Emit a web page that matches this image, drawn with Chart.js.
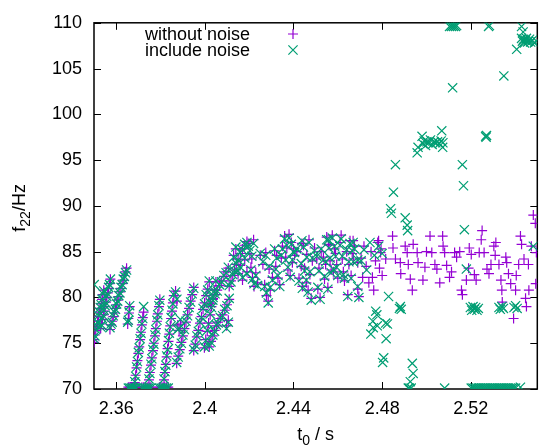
<!DOCTYPE html>
<html lang="en">
<head>
<meta charset="UTF-8">
<title>f22 vs t0</title>
<script src="https://cdn.jsdelivr.net/npm/chart.js"></script>
<style>
  html, body { margin: 0; padding: 0; background: #fff; }
  #wrap { width: 545px; height: 447px; }
</style>
</head>
<body>
<div id="wrap"><canvas id="f22Chart" width="545" height="447"></canvas></div>
<script>
// axis ticks
const xTickValues = [2.36, 2.40, 2.44, 2.48, 2.52];
const xTickLabels = ['2.36', '2.4', '2.44', '2.48', '2.52'];
const yTickValues = [70, 75, 80, 85, 90, 95, 100, 105, 110];
const yTickLabels = ['70', '75', '80', '85', '90', '95', '100', '105', '110'];

const seriesNames = ['without noise', 'include noise'];

// t0 < 2.47 s : both runs sampled at the same t0
const t0Early = [
  2.3500, 2.3504, 2.3508, 2.3512, 2.3516, 2.3520, 2.3524, 2.3528, 2.3532, 2.3536, 2.3540, 2.3544,
  2.3530, 2.3534, 2.3538, 2.3542, 2.3546, 2.3550, 2.3554, 2.3558, 2.3562, 2.3566, 2.3570, 2.3574,
  2.3572, 2.3577, 2.3582, 2.3587, 2.3592, 2.3597, 2.3602, 2.3607, 2.3612, 2.3617, 2.3622, 2.3627,
  2.3632, 2.3637, 2.3642, 2.3647, 2.3501, 2.3652, 2.3655, 2.3658, 2.3661,
  2.3655, 2.3662, 2.3669, 2.3676, 2.3683, 2.3690,
  2.3684, 2.3688, 2.3692, 2.3696, 2.3700, 2.3704, 2.3708, 2.3712, 2.3716, 2.3720, 2.3724,
  2.3716, 2.3724, 2.3732, 2.3740, 2.3748, 2.3756,
  2.3748, 2.3752, 2.3757, 2.3761, 2.3766, 2.3770, 2.3775, 2.3779, 2.3784, 2.3788, 2.3793, 2.3797,
  2.3795, 2.3803, 2.3811, 2.3819, 2.3827, 2.3835,
  2.3816, 2.3820, 2.3824, 2.3828, 2.3832, 2.3836, 2.3840, 2.3844, 2.3848, 2.3852, 2.3856, 2.3860,
  2.3868, 2.3874,
  2.3873, 2.3880, 2.3887, 2.3894, 2.3901, 2.3908, 2.3915, 2.3922, 2.3929, 2.3936, 2.3943, 2.3950,
  2.3878, 2.3884, 2.3890,
  2.3950, 2.3957, 2.3964, 2.3971, 2.3978, 2.3985, 2.3992, 2.3999, 2.4006, 2.4013, 2.4020,
  2.3998, 2.4004, 2.4011, 2.4017, 2.4024, 2.4030, 2.4037, 2.4043, 2.4050,
  2.4020, 2.4028, 2.4036, 2.4044, 2.4052, 2.4060, 2.4070, 2.4080, 2.4090, 2.4100, 2.4110,
  2.4098, 2.4106,
  2.4026, 2.4036, 2.4046, 2.4056, 2.4066, 2.4076, 2.4086, 2.4096, 2.4106,
  2.4110, 2.4118, 2.4126, 2.4134, 2.4142, 2.4150, 2.4160, 2.4170, 2.4180, 2.4190,
  2.4130, 2.4140, 2.4150, 2.4160, 2.4170, 2.4180, 2.4190, 2.4196, 2.4203, 2.4208, 2.4212, 2.4215,
  2.4220, 2.4222, 2.4230, 2.4238, 2.4250, 2.4262, 2.4270, 2.4275, 2.4278, 2.4286, 2.4290, 2.4295,
  2.4305, 2.4315, 2.4320, 2.4324, 2.4330, 2.4338, 2.4345, 2.4350, 2.4360, 2.4365, 2.4370, 2.4375,
  2.4380, 2.4385, 2.4390, 2.4395, 2.4400, 2.4405, 2.4415, 2.4425, 2.4435, 2.4438, 2.4440, 2.4445,
  2.4450, 2.4458, 2.4460, 2.4466, 2.4470, 2.4474, 2.4480, 2.4485, 2.4495, 2.4505, 2.4510, 2.4515,
  2.4520, 2.4525, 2.4535, 2.4540, 2.4545, 2.4550, 2.4555, 2.4558, 2.4560, 2.4565, 2.4570, 2.4575,
  2.4580, 2.4585, 2.4590, 2.4595, 2.4600, 2.4610, 2.4615, 2.4620, 2.4625, 2.4630, 2.4640, 2.4645,
  2.4650, 2.4655, 2.4660, 2.4665, 2.4669, 2.4670, 2.4675, 2.4690, 2.4695, 2.4690
];
const f22EarlyClean = [
  75.4, 75.9, 76.4, 76.9, 77.4, 77.9, 78.4, 78.8, 79.3, 79.8, 80.3, 80.8,
  76.6, 77.1, 77.6, 78.1, 78.5, 79.0, 79.5, 80.0, 80.5, 81.0, 81.5, 82.0,
  76.5, 77.0, 77.4, 77.9, 78.3, 78.8, 79.2, 79.7, 80.1, 80.6, 81.0, 81.5,
  81.9, 82.4, 82.8, 83.2, 75.1, 77.1, 77.7, 78.3, 79.0,
  70.2, 70.2, 70.2, 70.2, 70.2, 70.2,
  70.7, 71.5, 72.3, 73.1, 73.9, 74.6, 75.4, 76.2, 77.0, 77.8, 78.4,
  70.2, 70.2, 70.2, 70.2, 70.2, 70.2,
  71.0, 71.8, 72.6, 73.4, 74.2, 75.0, 75.8, 76.6, 77.4, 78.2, 79.0, 79.8,
  70.2, 70.2, 70.2, 70.2, 70.2, 70.2,
  71.0, 71.8, 72.7, 73.5, 74.4, 75.2, 76.0, 76.9, 77.7, 78.5, 79.4, 80.2,
  80.7, 79.6,
  72.8, 73.6, 74.3, 75.1, 75.8, 76.6, 77.3, 78.1, 78.8, 79.6, 80.3, 81.1,
  77.0, 76.4, 77.1,
  74.2, 74.9, 75.7, 76.4, 77.2, 77.9, 78.7, 79.4, 80.2, 80.9, 81.7,
  74.5, 75.4, 76.3, 77.2, 78.1, 79.0, 79.9, 80.8, 81.7,
  74.6, 75.2, 75.8, 76.4, 76.9, 77.3, 77.7, 78.1, 78.6, 79.2, 79.8,
  76.9, 77.5,
  79.3, 79.8, 80.3, 80.8, 81.3, 81.8, 82.3, 82.8, 83.2,
  81.2, 81.8, 82.4, 83.0, 83.6, 84.2, 84.8, 85.3, 85.7, 86.1,
  84.6, 85.3, 82.6, 83.5, 81.9, 84.1, 82.8, 85.9, 84.8, 83.3, 84.2, 82.2,
  86.3, 81.2, 82.7, 81.6, 84.6, 83.6, 81.4, 84.9, 80.2, 79.6, 83.1, 80.8,
  82.2, 85.1, 83.4, 84.6, 82.1, 81.4, 84.3, 85.6, 86.7, 84.4, 85.4, 83.0,
  86.9, 82.4, 86.0, 83.8, 85.3, 84.6, 85.0, 82.1, 83.4, 85.9, 81.2, 85.7,
  83.2, 81.6, 84.7, 80.8, 86.3, 82.5, 79.9, 84.0, 85.4, 84.2, 80.9, 83.2,
  80.0, 85.0, 84.4, 82.0, 83.6, 86.6, 81.1, 85.8, 85.7, 84.0, 83.0, 86.8,
  82.8, 85.3, 84.8, 83.6, 82.1, 86.0, 86.8, 84.2, 82.8, 81.8, 85.0, 80.3,
  83.6, 86.2, 82.4, 84.8, 86.2, 84.2, 85.6, 80.9, 80.1, 83.8
];
const f22EarlyNoisy = [
  75.5, 75.8, 76.5, 76.9, 77.3, 78.0, 78.4, 78.9, 79.2, 79.8, 80.4, 80.7,
  76.8, 77.0, 77.7, 78.0, 78.6, 79.1, 79.4, 80.1, 80.4, 81.1, 81.4, 82.0,
  76.7, 77.1, 77.3, 78.0, 78.4, 78.7, 79.3, 79.6, 80.2, 80.5, 81.1, 81.4,
  82.0, 82.3, 82.7, 83.0, 81.4, 77.3, 77.5, 78.4, 79.1,
  70.1, 70.1, 70.1, 70.1, 70.1, 70.1,
  70.8, 71.4, 72.4, 73.0, 74.0, 74.5, 75.5, 76.1, 77.1, 77.7, 79.0,
  70.1, 70.1, 70.1, 70.1, 70.1, 70.1,
  71.1, 71.7, 72.7, 73.3, 74.3, 74.9, 75.9, 76.5, 77.5, 78.1, 79.1, 79.7,
  70.1, 70.1, 70.1, 70.1, 70.1, 70.1,
  71.1, 71.9, 72.6, 73.6, 74.3, 75.3, 76.1, 76.8, 77.8, 78.6, 79.3, 80.3,
  80.6, 79.8,
  72.9, 73.5, 74.4, 75.0, 75.9, 76.5, 77.4, 78.0, 78.9, 79.5, 80.4, 81.0,
  76.5, 76.6, 77.6,
  74.3, 74.8, 75.8, 76.3, 77.3, 77.8, 78.8, 79.3, 80.3, 80.8, 81.8,
  74.6, 75.3, 76.4, 77.1, 78.2, 78.9, 80.0, 80.7, 81.8,
  74.7, 75.1, 75.9, 76.3, 77.0, 77.2, 77.8, 78.0, 78.7, 79.1, 79.9,
  76.6, 77.3,
  79.4, 79.7, 80.4, 80.7, 81.4, 81.7, 82.4, 82.7, 83.3,
  81.3, 81.7, 82.5, 82.9, 83.7, 84.1, 84.9, 85.2, 85.8, 86.0,
  84.4, 85.5, 82.9, 83.3, 82.2, 84.3, 82.6, 85.6, 85.1, 83.0, 84.5, 82.0,
  85.9, 81.5, 82.4, 81.3, 84.8, 83.9, 81.2, 84.6, 80.5, 79.4, 83.4, 81.1,
  81.9, 85.3, 83.1, 84.3, 82.4, 81.2, 84.6, 85.3, 86.4, 84.1, 85.7, 83.3,
  86.5, 82.2, 85.8, 84.1, 85.0, 84.9, 85.3, 81.8, 83.7, 86.2, 81.0, 85.5,
  82.9, 81.9, 84.4, 80.6, 86.0, 82.8, 79.7, 84.3, 85.1, 84.5, 81.1, 82.9,
  79.8, 85.3, 84.1, 82.3, 83.9, 86.3, 80.9, 86.3, 85.4, 84.3, 82.7, 86.5,
  83.1, 85.6, 84.5, 83.3, 82.4, 85.7, 86.4, 84.5, 82.5, 82.1, 85.2, 80.1,
  83.9, 85.9, 82.1, 85.1, 86.0, 83.9, 85.3, 81.2, 80.0, 84.1
];

// t0 >= 2.47 s : without noise
const t0LateClean = [
  2.4705, 2.4712, 2.4718, 2.4728, 2.4740, 2.4750, 2.4756, 2.4762, 2.4770, 2.4780, 2.4784, 2.4788,
  2.4793, 2.4795, 2.4800, 2.4816, 2.4847, 2.4849, 2.4860, 2.4882, 2.4884, 2.4904, 2.4913, 2.4918,
  2.4927, 2.4936, 2.4940, 2.4958, 2.4962, 2.4984, 2.4993, 2.5000, 2.5016, 2.5024, 2.5038, 2.5047,
  2.5060, 2.5073, 2.5075, 2.5082, 2.5091, 2.5104, 2.5113, 2.5127, 2.5136, 2.5150, 2.5158, 2.5162,
  2.5180, 2.5190, 2.5193, 2.5202, 2.5216, 2.5224, 2.5238, 2.5247, 2.5251, 2.5260, 2.5273, 2.5282,
  2.5291, 2.5304, 2.5310, 2.5313, 2.5327, 2.5336, 2.5340, 2.5342, 2.5358, 2.5362, 2.5370, 2.5380,
  2.5393, 2.5402, 2.5405, 2.5416, 2.5424, 2.5429, 2.5440, 2.5447, 2.5451, 2.5460, 2.5462, 2.5473,
  2.5482, 2.5491, 2.5493, 2.5496
];
const f22LateClean = [
  84.3, 82.2, 85.6, 83.4, 81.6, 85.0, 82.2, 80.8, 84.0, 86.0, 86.2, 83.2,
  84.9, 85.3, 82.4, 84.2, 86.7, 85.4, 84.2, 83.8, 82.6, 85.6, 84.9, 83.6,
  82.0, 80.8, 85.8, 84.9, 83.8, 81.9, 83.3, 85.0, 86.7, 84.9, 83.6, 83.1,
  81.6, 86.7, 85.6, 84.9, 83.5, 82.2, 82.8, 84.9, 84.4, 85.0, 80.8, 80.3,
  81.9, 83.2, 85.4, 84.7, 82.5, 81.9, 84.9, 86.3, 87.3, 84.9, 83.1, 82.6,
  83.6, 85.6, 84.6, 86.0, 83.6, 81.9, 80.8, 79.5, 84.4, 83.8, 82.6, 81.5,
  77.7, 80.8, 82.4, 83.6, 86.7, 85.8, 84.2, 79.9, 79.0, 83.6, 80.8, 85.6,
  89.0, 88.1, 81.5, 84.9
];

// t0 >= 2.47 s : include noise
const t0LateNoisy = [
  2.4749, 2.4758, 2.4760, 2.4771, 2.4776, 2.4778, 2.4802, 2.4807, 2.4816, 2.4818, 2.4824, 2.4829,
  2.4705, 2.4718, 2.4730, 2.4745, 2.4765, 2.4784, 2.4800,
  2.4838, 2.4842, 2.4851, 2.4860, 2.4904, 2.4913, 2.4915,
  2.4878, 2.4882, 2.4886,
  2.4918, 2.4922, 2.4927, 2.4931, 2.4936, 2.4940, 2.5082,
  2.4958, 2.4962, 2.4980, 2.4984, 2.4990, 2.4996, 2.5002, 2.5010, 2.5018, 2.5026, 2.5034, 2.5042,
  2.5050, 2.5058, 2.5066, 2.5069, 2.5073, 2.5074, 2.5118, 2.5162, 2.5167, 2.5267, 2.5269, 2.5271,
  2.5349, 2.5407,
  2.5104, 2.5109, 2.5113, 2.5118, 2.5122, 2.5127, 2.5131, 2.5136, 2.5280, 2.5284, 2.5429, 2.5436,
  2.5429, 2.5433, 2.5438, 2.5442, 2.5447, 2.5451, 2.5456, 2.5460, 2.5465, 2.5470, 2.5478, 2.5487,
  2.5496,
  2.5171, 2.5180, 2.5482,
  2.5198, 2.5204, 2.5210, 2.5216, 2.5222, 2.5228, 2.5234, 2.5327, 2.5333, 2.5340, 2.5347, 2.5395,
  2.5402, 2.5409,
  2.5202, 2.5210, 2.5218, 2.5226, 2.5234, 2.5242, 2.5250, 2.5258, 2.5266, 2.5274, 2.5282, 2.5290,
  2.5298, 2.5306, 2.5314, 2.5322, 2.5330, 2.5338, 2.5346, 2.5354, 2.5362, 2.5370, 2.5378, 2.5386,
  2.5394, 2.5402, 2.5424
];
const f22LateNoisy = [
  76.0, 77.4, 76.7, 78.5, 78.1, 76.9, 72.9, 73.4, 77.2, 75.5, 77.1, 80.1,
  84.0, 85.2, 83.0, 86.0, 84.6, 85.6, 84.8,
  89.7, 89.2, 91.5, 94.5, 88.7, 87.9, 87.3,
  78.8, 79.0, 78.7,
  70.1, 70.1, 70.8, 70.1, 72.8, 71.7, 70.1,
  95.8, 96.4, 97.6, 96.8, 97.1, 96.6, 97.0, 96.9, 97.2, 96.7, 97.0, 96.9,
  97.0, 96.8, 97.1, 98.2, 96.4, 96.9, 102.9, 94.5, 92.2, 97.6, 97.5, 97.7,
  104.2, 107.1,
  109.6, 109.7, 109.6, 109.7, 109.6, 109.7, 109.6, 109.7, 109.6, 109.7, 109.6, 109.0,
  108.3, 108.0, 108.2, 107.8, 108.1, 108.3, 107.9, 108.0, 108.2, 107.9, 108.1, 107.8,
  108.0,
  87.4, 83.1, 85.6,
  78.9, 78.6, 79.0, 78.7, 78.9, 78.6, 78.8, 78.9, 78.7, 79.0, 78.8, 78.9,
  79.1, 78.8,
  70.1, 70.1, 70.1, 70.1, 70.1, 70.1, 70.1, 70.1, 70.1, 70.1, 70.1, 70.1,
  70.1, 70.1, 70.1, 70.1, 70.1, 70.1, 70.1, 70.1, 70.1, 70.1, 70.1, 70.1,
  70.1, 70.1, 70.2
];

function toPoints(ts, fs) {
  return ts.map((t, i) => ({ x: t, y: fs[i] }));
}
const cleanPoints = toPoints(t0Early, f22EarlyClean).concat(toPoints(t0LateClean, f22LateClean));
const noisyPoints = toPoints(t0Early, f22EarlyNoisy).concat(toPoints(t0LateNoisy, f22LateNoisy));

const PURPLE = '#9400d3';
const GREEN = '#009e73';
const FONT = "'Liberation Sans', Arial, sans-serif";
const FS = 18;   // main text size
const SUB = 14;  // subscript size

Chart.defaults.font.family = FONT;
Chart.defaults.font.size = FS;
Chart.defaults.color = '#000';

// draw text made of normal and subscript pieces, centred on x
function drawParts(ctx, parts, x, y) {
  let total = 0;
  parts.forEach(p => {
    ctx.font = (p.sub ? SUB : FS) + 'px ' + FONT;
    p.w = ctx.measureText(p.text).width;
    total += p.w;
  });
  let cx = x - total / 2;
  ctx.textAlign = 'left';
  ctx.textBaseline = 'alphabetic';
  parts.forEach(p => {
    ctx.font = (p.sub ? SUB : FS) + 'px ' + FONT;
    ctx.fillText(p.text, cx, y + (p.sub ? 5 : 0));
    cx += p.w;
  });
}

// gnuplot style frame with inward ticks on all four sides
const framePlugin = {
  id: 'frame',
  beforeDatasetsDraw(chart) {
    const { ctx, chartArea: a, scales } = chart;
    const tl = 7;
    ctx.save();
    ctx.strokeStyle = '#000';
    ctx.lineWidth = 1;
    xTickValues.forEach(v => {
      const px = Math.round(scales.x.getPixelForValue(v)) + 0.5;
      ctx.beginPath();
      ctx.moveTo(px, a.bottom); ctx.lineTo(px, a.bottom - tl);
      ctx.moveTo(px, a.top); ctx.lineTo(px, a.top + tl);
      ctx.stroke();
    });
    yTickValues.forEach(v => {
      const py = Math.round(scales.y.getPixelForValue(v)) + 0.5;
      ctx.beginPath();
      ctx.moveTo(a.left, py); ctx.lineTo(a.left + tl, py);
      ctx.moveTo(a.right, py); ctx.lineTo(a.right - tl, py);
      ctx.stroke();
    });
    ctx.lineWidth = 1.5;
    ctx.strokeRect(a.left, a.top, a.right - a.left, a.bottom - a.top);
    ctx.restore();
  }
};

const labelsPlugin = {
  id: 'labels',
  afterDraw(chart) {
    const { ctx, chartArea: a } = chart;
    ctx.save();
    ctx.fillStyle = '#000';
    // x title
    drawParts(ctx, [{ text: 't' }, { text: '0', sub: true }, { text: ' / s' }], (a.left + a.right) / 2, 440);
    // y title, rotated
    ctx.save();
    ctx.translate(25, (a.top + a.bottom) / 2 + 2);
    ctx.rotate(-Math.PI / 2);
    drawParts(ctx, [{ text: 'f' }, { text: '22', sub: true }, { text: '/Hz' }], 0, 0);
    ctx.restore();
    // key
    ctx.font = FS + 'px ' + FONT;
    ctx.textAlign = 'right';
    ctx.textBaseline = 'alphabetic';
    const rows = [
      { y: 40, style: 'cross', r: 5, color: PURPLE },
      { y: 56, style: 'crossRot', r: 6.5, color: GREEN }
    ];
    rows.forEach((row, i) => {
      ctx.fillText(seriesNames[i], 250, row.y);
      ctx.strokeStyle = row.color;
      ctx.lineWidth = 1.2;
      Chart.helpers.drawPoint(ctx, { pointStyle: row.style, radius: row.r, borderWidth: 1.2, rotation: 0 }, 293, row.y - 6);
    });
    ctx.restore();
  }
};

new Chart(document.getElementById('f22Chart'), {
  type: 'scatter',
  data: {
    datasets: [
      {
        label: seriesNames[0],
        data: cleanPoints,
        pointStyle: 'cross',
        pointRadius: 5,
        pointBorderWidth: 1.2,
        borderColor: PURPLE,
        backgroundColor: PURPLE,
        order: 1
      },
      {
        label: seriesNames[1],
        data: noisyPoints,
        pointStyle: 'crossRot',
        pointRadius: 6.5,
        pointBorderWidth: 1.2,
        borderColor: GREEN,
        backgroundColor: GREEN,
        order: 0
      }
    ]
  },
  options: {
    responsive: false,
    animation: false,
    events: [],
    layout: { padding: { left: 0, right: 1, top: 16, bottom: 0 } },
    plugins: { legend: { display: false }, tooltip: { enabled: false } },
    scales: {
      x: {
        type: 'linear',
        min: 2.35,
        max: 2.55,
        grid: { display: false, drawTicks: false },
        border: { display: false },
        afterBuildTicks: s => { s.ticks = xTickValues.map(v => ({ value: v })); },
        afterFit: s => { s.height = 58; },
        ticks: { padding: 9, maxRotation: 0, callback: (v, i) => xTickLabels[i] }
      },
      y: {
        type: 'linear',
        min: 70,
        max: 110,
        grid: { display: false, drawTicks: false },
        border: { display: false },
        afterBuildTicks: s => { s.ticks = yTickValues.map(v => ({ value: v })); },
        afterFit: s => { s.width = 94; },
        ticks: { padding: 12, callback: (v, i) => yTickLabels[i] }
      }
    }
  },
  plugins: [framePlugin, labelsPlugin]
});
</script>
</body>
</html>
